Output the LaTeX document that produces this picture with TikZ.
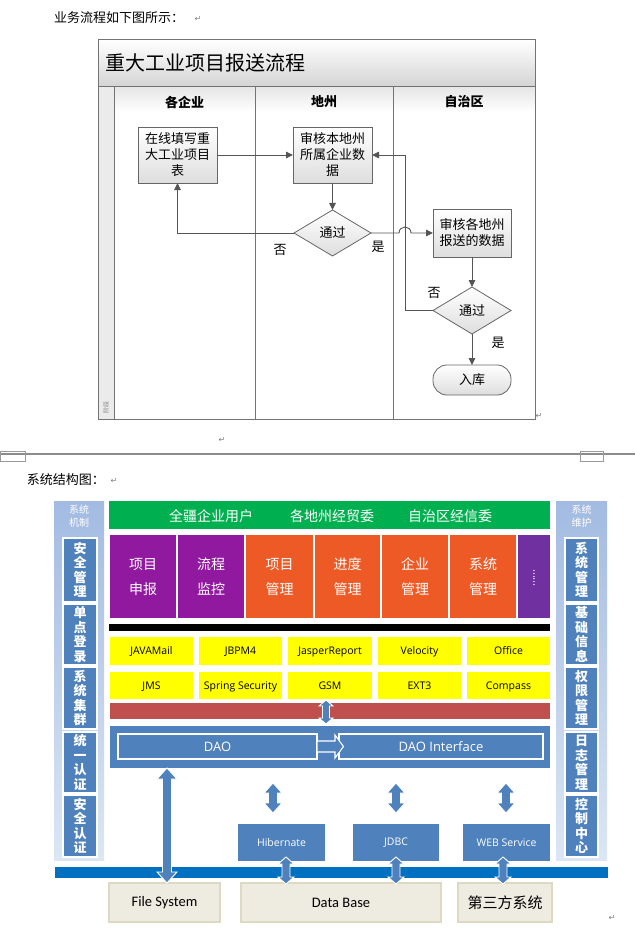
\documentclass[tikz,border=0pt]{standalone}
\usepackage{fontspec}
\setmainfont{Open Sans}
\newfontfamily\cjk{Noto Sans CJK SC}
\newfontfamily\calib{Carlito}
\newfontfamily\dejavu{DejaVu Sans}
\usetikzlibrary{shapes.geometric,arrows.meta}
\definecolor{cgreen}{HTML}{00B050}
\definecolor{cpurple}{HTML}{9119A0}
\definecolor{cviolet}{HTML}{7030A0}
\definecolor{corange}{HTML}{EE5A26}
\definecolor{cyellow}{HTML}{FFFF00}
\definecolor{cred}{HTML}{C0504D}
\definecolor{cblue}{HTML}{4F81BD}
\definecolor{cbar}{HTML}{0070C0}
\definecolor{cbeige}{HTML}{EEECE1}
\definecolor{cbeigeb}{HTML}{DDD9C3}
\definecolor{cpanel}{HTML}{A3BBE2}
\definecolor{cpanellow}{HTML}{DCE6F4}
\definecolor{cline}{HTML}{555555}
\newcommand\VArr[6]{\filldraw[barrow] (#1,#2) -- ({#1+#5},{#2+#6}) -- ({#1+#4},{#2+#6}) -- ({#1+#4},{#3-#6}) -- ({#1+#5},{#3-#6}) -- (#1,#3) -- ({#1-#5},{#3-#6}) -- ({#1-#4},{#3-#6}) -- ({#1-#4},{#2+#6}) -- ({#1-#5},{#2+#6}) -- cycle;}
\begin{document}
\begin{tikzpicture}[x=1pt,y=-1pt,
  every node/.style={inner sep=0pt,outer sep=0pt},
  pmark/.style={font=\dejavu\fontsize{8}{8}\selectfont,text=gray},
  fbox/.style={draw=black!60,line width=0.8pt,top color=white,bottom color=black!13,minimum width=79pt,minimum height=56pt,align=center,font=\cjk\fontsize{13}{16}\selectfont},
  fdia/.style={diamond,draw=black!60,line width=0.8pt,top color=white,bottom color=black!13,minimum width=77pt,minimum height=46pt,font=\cjk\fontsize{13}{13}\selectfont},
  fterm/.style={draw=black!60,line width=0.8pt,top color=white,bottom color=black!13,rounded corners=14pt,minimum width=78pt,minimum height=30pt,font=\cjk\fontsize{13}{13}\selectfont},
  flow/.style={draw=cline,line width=0.9pt,-{Triangle[length=7pt,width=6.5pt]}},
  lane/.style={draw=black!55,line width=1pt},
  lanehead/.style={font=\cjk\bfseries\fontsize{13}{13}\selectfont},
  flabel/.style={font=\cjk\fontsize{13}{13}\selectfont},
  modbox/.style={minimum height=83pt,align=center,text=white,font=\cjk\fontsize{14}{25}\selectfont},
  ybox/.style={fill=cyellow,minimum width=83pt,text height=7pt,text depth=0pt,font=\fontsize{10.5}{10.5}\selectfont},
  sidebox/.style={fill=cblue,draw=white,line width=1.2pt,text=white,align=center,font=\cjk\bfseries\fontsize{13}{14.5}\selectfont},
  sidetitle/.style={text=white,align=center,font=\cjk\fontsize{10}{12.5}\selectfont},
  barrow/.style={fill=cblue,draw=white,line width=0.9pt},
  dbox/.style={fill=cblue,text=white,font=\fontsize{10.5}{10.5}\selectfont,minimum height=37pt},
  bbox/.style={fill=cbeige,draw=cbeigeb,line width=1.5pt,minimum height=39pt}
]
\useasboundingbox (0,0) rectangle (635,931);
\fill[white] (0,0) rectangle (635,931);
% ---------------- top text
\node[anchor=west,font=\cjk\fontsize{13}{13}\selectfont] (t1) at (54,18) {业务流程如下图所示：};
\node[pmark] (m1) at (198,19) {↵};
% ---------------- flowchart frame
\shade[top color=white,bottom color=black!17] (98,40) rectangle (535,87);
\fill[black!8] (98,87) rectangle (114,419);
\shade[top color=black!10,bottom color=white] (114,87) rectangle (535,112);
\draw[lane] (98,40) rectangle (535,419);
\draw[lane] (98,87) -- (535,87);
\draw[lane] (114,87) -- (114,419);
\draw[lane] (255,87) -- (255,419);
\draw[lane] (393,87) -- (393,419);
\node[anchor=west,font=\cjk\fontsize{20}{20}\selectfont] (title) at (105,63) {重大工业项目报送流程};
\node[lanehead] (l1) at (184.5,102) {各企业};
\node[lanehead] (l2) at (324,102) {地州};
\node[lanehead] (l3) at (464,102) {自治区};
\node[rotate=90,text=gray,font=\cjk\fontsize{6}{6}\selectfont] (phase) at (106,407) {阶段};
% nodes
\node[fbox] (b1) at (177.5,155) {在线填写重\\大工业项目\\表};
\node[fbox] (b2) at (332.5,155) {审核本地州\\所属企业数\\据};
\node[fdia] (d1) at (332.5,233) {通过};
\node[fbox,minimum width=78pt,minimum height=48pt] (b3) at (472,233) {审核各地州\\报送的数据};
\node[fdia,minimum width=78pt,minimum height=47pt] (d2) at (472,310.5) {通过};
\node[fterm] (e) at (472,380) {入库};
% connectors
\coordinate (h1) at (399,233);
\coordinate (h2) at (411,233);
\coordinate (c1) at (405,310.5);
\draw[flow] (b1) -- (b2);
\draw[flow] (b2) -- (d1);
\draw[flow] (d1.west) -| (b1.south);
\draw[flow] (d1.east) -- (h1) .. controls +(0,-8) and +(0,-8) .. (h2) -- (b3.west);
\draw[flow] (b3) -- (d2);
\draw[flow] (d2.west) -- (c1) |- (b2.east);
\draw[flow] (d2) -- (e);
\node[flabel] (no1) at (280,250) {否};
\node[flabel] (yes1) at (378,247) {是};
\node[flabel] (no2) at (434,293) {否};
\node[flabel] (yes2) at (498,343) {是};
\node[pmark] (m2) at (539,416) {↵};
\node[pmark] (m3) at (222,440) {↵};
% ---------------- separator
\draw[black!45,line width=1.4pt] (0,454) -- (635,454);
\draw[black!40,line width=0.6pt] (0,451) rectangle (25,461);
\draw[black!40,line width=0.6pt] (580,451) rectangle (603,461);
\node[anchor=west,font=\cjk\fontsize{13}{13}\selectfont] (t2) at (27,480) {系统结构图：};
\node[pmark] (m4) at (114,481) {↵};
% ---------------- architecture
% side panels
\shade[top color=cpanel,bottom color=cpanellow] (54,501) rectangle (104,860);
\shade[top color=cpanel,bottom color=cpanellow] (556,501) rectangle (607,860);
\node[sidetitle] (lt) at (79,516) {系统\\机制};
\node[sidetitle] (rt) at (581.5,516) {系统\\维护};
\node[sidebox,minimum width=34pt,minimum height=64pt] (s1) at (80,570) {安\\全\\管\\理};
\node[sidebox,minimum width=34pt,minimum height=61pt] (s2) at (80,634.5) {单\\点\\登\\录};
\node[sidebox,minimum width=34pt,minimum height=62pt] (s3) at (80,698) {系\\统\\集\\群};
\node[sidebox,minimum width=34pt,minimum height=61pt] (s4) at (80,762.5) {统\\一\\认\\证};
\node[sidebox,minimum width=34pt,minimum height=62pt] (s5) at (80,826) {安\\全\\认\\证};
\node[sidebox,minimum width=33pt,minimum height=64pt] (r1) at (581.5,570) {系\\统\\管\\理};
\node[sidebox,minimum width=33pt,minimum height=61pt] (r2) at (581.5,634.5) {基\\础\\信\\息};
\node[sidebox,minimum width=33pt,minimum height=62pt] (r3) at (581.5,698) {权\\限\\管\\理};
\node[sidebox,minimum width=33pt,minimum height=61pt] (r4) at (581.5,762.5) {日\\志\\管\\理};
\node[sidebox,minimum width=33pt,minimum height=62pt] (r5) at (581.5,826) {控\\制\\中\\心};
% green bar
\node[fill=cgreen,minimum width=441pt,minimum height=28pt] (green) at (329.5,515) {};
\node[text=white,font=\cjk\fontsize{14}{14}\selectfont] (g1) at (211,516) {全疆企业用户};
\node[text=white,font=\cjk\fontsize{14}{14}\selectfont] (g2) at (332,516) {各地州经贸委};
\node[text=white,font=\cjk\fontsize{14}{14}\selectfont] (g3) at (450,516) {自治区经信委};
% modules
\node[modbox,fill=cpurple,minimum width=66pt] (p1) at (143,576.5) {项目\\申报};
\node[modbox,fill=cpurple,minimum width=66pt] (p2) at (211,576.5) {流程\\监控};
\node[modbox,fill=corange,minimum width=67pt] (p3) at (279.5,576.5) {项目\\管理};
\node[modbox,fill=corange,minimum width=65pt] (p4) at (347.5,576.5) {进度\\管理};
\node[modbox,fill=corange,minimum width=66pt] (p5) at (415,576.5) {企业\\管理};
\node[modbox,fill=corange,minimum width=66pt] (p6) at (483,576.5) {系统\\管理};
\node[fill=cviolet,minimum width=32pt,minimum height=83pt] (p7) at (534,576.5) {};
\node[rotate=90,text=white,font=\fontsize{11}{11}\selectfont] (dots) at (534,578) {......};
% black bar
\node[fill=black,minimum width=441pt,minimum height=7pt] (black) at (329.5,627.5) {};
% yellow boxes
\node[ybox,minimum height=28pt] (y1) at (151.5,651) {JAVAMail};
\node[ybox,minimum height=28pt] (y2) at (240.5,651) {JBPM4};
\node[ybox,minimum height=28pt,minimum width=84pt] (y3) at (330,651) {JasperReport};
\node[ybox,minimum height=28pt] (y4) at (419.5,651) {Velocity};
\node[ybox,minimum height=28pt] (y5) at (508.5,651) {Office};
\node[ybox,minimum height=27pt] (y6) at (151.5,685.5) {JMS};
\node[ybox,minimum height=27pt] (y7) at (240.5,685.5) {Spring Security};
\node[ybox,minimum height=27pt,minimum width=84pt] (y8) at (330,685.5) {GSM};
\node[ybox,minimum height=27pt] (y9) at (419.5,685.5) {EXT3};
\node[ybox,minimum height=27pt] (y10) at (508.5,685.5) {Compass};
% red bar
\node[fill=cred,minimum width=440pt,minimum height=16pt] (red) at (330,711) {};
\VArr{326}{700}{724}{3.5}{7}{6}
% DAO panel
\node[fill=cblue,minimum width=440pt,minimum height=42pt] (daop) at (330,747) {};
\node[draw=white,line width=1.2pt,minimum width=199pt,minimum height=25pt,text=white,font=\fontsize{13}{13}\selectfont] (dao) at (217.5,746.5) {DAO};
\node[draw=white,line width=1.2pt,minimum width=204pt,minimum height=25pt,text=white,font=\fontsize{13}{13}\selectfont] (daoi) at (441,746.5) {DAO Interface};
\filldraw[barrow,line width=1.1pt] (317,741) -- (335,741) -- (335,735) -- (343.5,746.5) -- (335,758) -- (335,752) -- (317,752) -- cycle;
% data access boxes
\node[dbox,minimum width=87pt] (hib) at (281.5,842.5) {Hibernate};
\node[dbox,minimum width=86pt] (jdbc) at (396,842.5) {JDBC};
\node[dbox,minimum width=87pt] (ws) at (506.5,842.5) {WEB Service};
\VArr{273}{783}{813}{4.5}{9}{10}
\VArr{396}{783}{813}{4.5}{9}{10}
\VArr{506}{783}{813}{4.5}{9}{10}
% blue bar
\node[fill=cbar,minimum width=553pt,minimum height=11pt] (bar) at (331.5,872.5) {};
% bottom boxes
\node[bbox,minimum width=111pt,font=\calib\fontsize{14.5}{14.5}\selectfont] (fs) at (164.5,902.5) {File System};
\node[bbox,minimum width=200pt,font=\calib\fontsize{14.5}{14.5}\selectfont] (db) at (341,902.5) {Data Base};
\node[bbox,minimum width=94pt,font=\cjk\fontsize{15}{15}\selectfont] (third) at (505,902.5) {第三方系统};
\VArr{167}{768}{883}{4.5}{10}{11}
\VArr{286}{857}{884}{4}{8}{7}
\VArr{396}{857}{884}{4}{8}{7}
\VArr{503}{857}{884}{4}{8}{7}
\node[pmark] (m5) at (612,918) {↵};
\end{tikzpicture}
\end{document}
